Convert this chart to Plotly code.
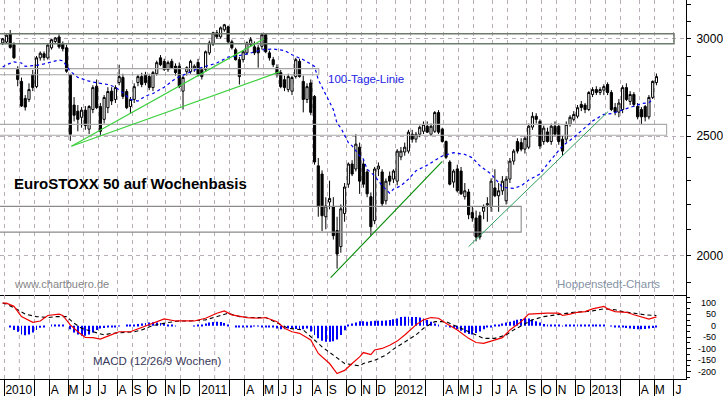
import plotly.graph_objects as go
import pandas as pd

# ---------------- data (weekly bars, Friday dates) ----------------
START = pd.Timestamp("2010-01-01")

open_ = [2977, 2982, 3028, 2967, 2832, 2770, 2683, 2678, 2805, 2743,
         2895, 2917, 2895, 2950, 2985, 3010, 2970, 2950, 2805, 2650,
         2620, 2590, 2625, 2533, 2628, 2745, 2643, 2580, 2637, 2720,
         2678, 2764, 2790, 2718, 2643, 2678, 2764, 2795, 2805, 2795,
         2738, 2810, 2895, 2876, 2832, 2876, 2850, 2850, 2720, 2821,
         2821, 2840, 2870, 2832, 2832, 2922, 2970, 3034, 3011, 3051,
         3068, 2983, 2939, 2885, 2885, 2922, 2967, 2955, 2950, 2958,
         3023, 2922, 2885, 2842, 2816, 2779, 2728, 2720, 2795, 2876,
         2770, 2678, 2762, 2693, 2365, 2329, 2150, 2210, 2190, 2095,
         2033, 2163, 2285, 2373, 2351, 2449, 2373, 2338, 2232, 2134,
         2351, 2338, 2215, 2320, 2307, 2298, 2405, 2427, 2431, 2509,
         2486, 2509, 2523, 2547, 2509, 2523, 2613, 2533, 2475, 2382,
         2294, 2351, 2342, 2232, 2252, 2167, 2145, 2154, 2172, 2198,
         2190, 2269, 2236, 2257, 2215, 2307, 2386, 2475, 2470, 2440,
         2449, 2543, 2595, 2570, 2475, 2520, 2475, 2547, 2547, 2486,
         2486, 2556, 2580, 2595, 2653, 2650, 2628, 2703, 2728, 2713,
         2725, 2754, 2713, 2638, 2615, 2628, 2738, 2668, 2703, 2643,
         2628, 2643, 2592, 2688, 2764]
high = [3005, 3025, 3050, 2980, 2850, 2790, 2700, 2760, 2830, 2905,
        2930, 2930, 2970, 2998, 3010, 3025, 2985, 2967, 2810, 2690,
        2650, 2640, 2645, 2650, 2750, 2780, 2660, 2700, 2740, 2740,
        2750, 2858, 2810, 2730, 2690, 2760, 2805, 2815, 2820, 2810,
        2825, 2880, 2910, 2890, 2880, 2890, 2865, 2870, 2800, 2850,
        2885, 2860, 2890, 2845, 2935, 2990, 3040, 3050, 3070, 3085,
        3075, 2995, 2950, 2900, 2935, 2985, 3010, 2985, 2965, 3034,
        3030, 2935, 2900, 2860, 2830, 2800, 2810, 2800, 2895, 2890,
        2800, 2760, 2780, 2700, 2400, 2345, 2230, 2300, 2230, 2150,
        2200, 2290, 2380, 2390, 2509, 2470, 2390, 2350, 2250, 2360,
        2380, 2350, 2310, 2340, 2350, 2440, 2450, 2470, 2530, 2530,
        2520, 2550, 2570, 2570, 2560, 2620, 2625, 2540, 2480, 2390,
        2350, 2370, 2360, 2290, 2265, 2190, 2175, 2170, 2200, 2230,
        2310, 2350, 2290, 2320, 2320, 2400, 2440, 2490, 2490, 2500,
        2560, 2615, 2610, 2580, 2550, 2540, 2560, 2570, 2560, 2500,
        2570, 2600, 2620, 2650, 2670, 2660, 2720, 2740, 2745, 2740,
        2755, 2765, 2725, 2660, 2680, 2750, 2760, 2720, 2715, 2660,
        2640, 2650, 2700, 2775, 2811]
low = [2965, 2975, 2945, 2890, 2745, 2640, 2623, 2665, 2720, 2735,
       2880, 2880, 2885, 2940, 2975, 2945, 2930, 2815, 2478, 2570,
       2523, 2540, 2530, 2510, 2610, 2630, 2500, 2560, 2610, 2650,
       2660, 2750, 2680, 2630, 2610, 2660, 2745, 2740, 2750, 2725,
       2720, 2800, 2850, 2825, 2820, 2835, 2800, 2735, 2628, 2800,
       2810, 2820, 2795, 2780, 2820, 2910, 2960, 3000, 3000, 3040,
       2975, 2940, 2880, 2754, 2870, 2910, 2955, 2910, 2842, 2940,
       2920, 2880, 2845, 2790, 2735, 2720, 2715, 2700, 2785, 2790,
       2614, 2660, 2600, 2370, 2150, 2093, 2100, 2180, 2060, 1951,
       2010, 2130, 2270, 2320, 2340, 2244, 2270, 2230, 2075, 2120,
       2320, 2190, 2200, 2280, 2290, 2280, 2390, 2410, 2420, 2470,
       2470, 2495, 2510, 2515, 2500, 2515, 2510, 2470, 2395, 2280,
       2270, 2250, 2240, 2220, 2140, 2130, 2053, 2060, 2140, 2130,
       2170, 2230, 2170, 2240, 2200, 2290, 2370, 2420, 2430, 2420,
       2440, 2530, 2560, 2440, 2460, 2470, 2460, 2500, 2460, 2410,
       2470, 2545, 2570, 2585, 2620, 2610, 2620, 2690, 2700, 2700,
       2700, 2700, 2620, 2600, 2590, 2610, 2670, 2650, 2640, 2580,
       2556, 2570, 2580, 2680, 2750]
close = [3000, 3020, 2952, 2895, 2780, 2645, 2640, 2728, 2738, 2895,
         2920, 2897, 2965, 2995, 3005, 2955, 2945, 2823, 2509, 2600,
         2580, 2625, 2550, 2643, 2738, 2637, 2523, 2688, 2718, 2670,
         2738, 2795, 2693, 2637, 2678, 2743, 2795, 2754, 2764, 2738,
         2816, 2869, 2858, 2832, 2869, 2842, 2816, 2743, 2790, 2842,
         2876, 2850, 2805, 2795, 2928, 2977, 3034, 3011, 3062, 3080,
         2983, 2950, 2885, 2795, 2928, 2977, 2995, 2922, 2922, 3023,
         2928, 2895, 2858, 2805, 2743, 2738, 2795, 2790, 2885, 2795,
         2678, 2743, 2614, 2382, 2194, 2154, 2194, 2225, 2075, 2005,
         2182, 2273, 2373, 2329, 2463, 2298, 2285, 2244, 2110, 2351,
         2364, 2203, 2298, 2298, 2342, 2431, 2431, 2449, 2519, 2486,
         2509, 2542, 2556, 2519, 2547, 2613, 2519, 2475, 2403, 2285,
         2342, 2257, 2244, 2257, 2158, 2145, 2070, 2070, 2190, 2203,
         2298, 2236, 2257, 2298, 2307, 2386, 2431, 2431, 2440, 2490,
         2547, 2595, 2580, 2454, 2538, 2475, 2547, 2509, 2475, 2431,
         2556, 2590, 2604, 2637, 2638, 2628, 2713, 2728, 2713, 2728,
         2743, 2713, 2628, 2615, 2660, 2738, 2678, 2703, 2653, 2592,
         2592, 2592, 2688, 2770, 2795]

# "100-Tage-Linie": week number, value
ma_week = [0, 1, 3, 5, 6, 9, 11, 13, 15, 16, 18, 20, 23, 25, 28, 30, 32, 34, 36, 38,
           40, 43, 46, 49, 52, 57, 60, 62, 66, 69, 72, 75, 77, 80, 83, 84, 86, 88, 89, 90,
           92, 93, 95, 96, 97, 99, 101, 103, 104, 106, 108, 110, 113, 117, 120, 123, 125, 127, 130, 133,
           136, 138, 140, 143, 145, 147, 149, 152, 155, 157, 160, 162, 164, 167, 170, 172, 173]
ma_val = [2846, 2858, 2873, 2867, 2849, 2854, 2862, 2873, 2883, 2879, 2823, 2791, 2771, 2763, 2754, 2740, 2712, 2678, 2670, 2695,
          2708, 2740, 2785, 2811, 2837, 2867, 2899, 2903, 2921, 2939, 2943, 2935, 2912, 2885, 2849, 2779, 2703, 2628, 2560, 2540,
          2470, 2455, 2410, 2395, 2350, 2321, 2278, 2247, 2264, 2278, 2307, 2343, 2368, 2409, 2424, 2416, 2401, 2365, 2329, 2272,
          2267, 2278, 2303, 2329, 2373, 2416, 2455, 2494, 2540, 2572, 2604, 2608, 2620, 2640, 2657, 2662, 2678]

# MACD (12/26/9) line, signal line: week number, value
macd_week = [0, 1, 3, 5, 8, 10, 12, 15, 16, 18, 20, 22, 24, 26, 28, 31, 34, 37, 40, 43,
             46, 49, 51, 54, 57, 59, 61, 65, 68, 70, 73, 75, 77, 79, 82, 84, 87, 89, 91, 93,
             95, 96, 98, 99, 101, 103, 105, 107, 109, 110, 112, 114, 116, 118, 121, 124, 126, 128, 130, 133,
             135, 138, 140, 143, 145, 148, 149, 151, 153, 155, 157, 160, 161, 163, 166, 168, 171, 172, 174]
macd_val = [99, 99, 85, 40, 15, 21, 45, 51, 45, 4, -26, -51, -52, -58, -45, -26, -26, -8, 11, 30,
            21, 21, 21, 33, 55, 65, 48, 36, 33, 36, 18, -11, -26, -33, -62, -121, -165, -209, -195, -165,
            -136, -117, -126, -106, -99, -85, -67, -40, -11, 4, 26, 36, 33, 11, -18, -55, -73, -77, -67, -52,
            -18, 18, 51, 55, 55, 55, 45, 51, 59, 62, 74, 85, 74, 62, 59, 48, 33, 29, 39]
sig_week = [0, 1, 4, 6, 9, 12, 14, 17, 19, 21, 24, 27, 29, 32, 35, 37, 40, 44, 47, 50,
            54, 58, 60, 63, 66, 70, 73, 76, 80, 82, 85, 88, 91, 95, 96, 99, 102, 104, 107, 110,
            112, 115, 118, 120, 123, 126, 128, 131, 134, 136, 139, 141, 144, 147, 149, 152, 155, 157, 160, 163,
            165, 168, 171, 174]
sig_val = [99, 95, 70, 51, 40, 36, 40, 40, 11, -11, -26, -40, -33, -30, -26, -18, 1, 14, 21, 21,
           26, 45, 55, 40, 36, 36, 11, -11, -18, -48, -92, -128, -165, -175, -165, -151, -128, -102, -70, -40,
           -11, 18, 18, 4, -18, -40, -55, -55, -40, -18, 7, 26, 40, 48, 51, 59, 62, 65, 74, 70,
           62, 55, 48, 45]
# MACD histogram, one value per week
hist = [0, 0, -8, -18, -26, -38, -41, -38, -29, -18, -9,
        -3, 0, 2, 2, 2, 2, 0,
        -15, -29, -38, -44, -44, -38, -29, -18,
        -12, -10, -8, -5, -3, -2, 0, 2, 4, 6, 8,
        10, 12, 14, 15, 14, 12, 10, 6, 3, 1,
        0, 0, 0, 0, 1, 2,
        5, 10, 14, 17, 18, 16, 12, 6,
        0, -3, -4, -4, -3, -3, -2, -2, -3, -4,
        -6, -8, -12, -15, -15, -12, -12, -14, -18, -15, -12,
        -25, -40, -55, -65, -70, -70, -68, -60, -40, -20,
        5, 10, 14, 20,
        20, 18, 20, 22, 22, 22, 23, 25, 28, 32, 38, 40, 40, 38, 38, 36, 32, 25, 18, 10,
        3, 0, -2, -5, -10,
        -14, -22, -30, -36, -38, -32, -25, -15, -8, -3,
        2, 6, 10, 14, 18, 22, 26, 30, 34, 32, 27, 20, 14, 8,
        4, 3, 3,
        2, 1, 2, 3, 4, 4, 4, 4, 5, 5, 5, 4, 3,
        0, -2, -5, -6, -8, -10, -12, -14, -15, -15, -14, -12, -10, -6]

# trend lines drawn on the chart (start / end)
trend_a_x = ["2010-05-09", "2011-06-02"]
trend_a_y = [2453, 2821]
trend_b_x = ["2010-05-09", "2011-05-03"]
trend_b_y = [2453, 3000]
trend_c_x = ["2011-09-04", "2012-03-30"]
trend_c_y = [1918, 2385]
trend_d_x = ["2012-05-18", "2013-02-02"]
trend_d_y = [2033, 2618]

# horizontal zones (boxes)
zone_lo = [2972, 2805, 2504, 2089]
zone_hi = [3028, 2837, 2556, 2192]
zone_end = ["2013-06-04 18:00", "2011-08-13", "2013-05-22", "2012-08-24"]
zone_color = ["#6e7c6e", "#a6a6a6", "#ababab", "#8a8a8a"]
zone_width = [1.5, 1.1, 1.1, 1.1]

# ---------------- helpers ----------------
FONT = "Liberation Sans, Arial, Helvetica, sans-serif"
GRID = "#b9adb9"
X_RANGE = [pd.Timestamp("2009-12-26 23:40"), pd.Timestamp("2013-06-27 02:00")]
ZONE_START = pd.Timestamp("2009-12-20")


def wk(k):
    return START + pd.Timedelta(days=7 * k)


dates = [wk(k) for k in range(len(close))]

# month grid: Monday of the week holding the first trading day of each month
grid, grid_nofeb, lab_pos, lab_txt = [], [], [], []
letters = "JFMAMJJASOND"
for y in range(2010, 2014):
    for m in range(1, 13):
        if y == 2013 and m > 6:
            break
        d = pd.Timestamp(y, m, 1)
        while d.weekday() >= 5 or (m == 1 and d.day == 1):
            d += pd.Timedelta(days=1)
        g = d - pd.Timedelta(days=d.weekday())
        grid.append(g)
        if m != 2:
            grid_nofeb.append(g)
        if m == 1:
            lab_pos.append(g + pd.Timedelta(days=27))
            lab_txt.append(str(y))
        elif m != 2 and m != 3:
            lab_pos.append(g + pd.Timedelta(days=10))
            lab_txt.append(letters[m - 1])

fig = go.Figure()

# zones
for lo, hi, end, col, w in zip(zone_lo, zone_hi, zone_end, zone_color, zone_width):
    e = pd.Timestamp(end)
    fig.add_trace(go.Scatter(x=[ZONE_START, e, e, ZONE_START, ZONE_START], y=[lo, lo, hi, hi, lo],
                             mode="lines", line=dict(color=col, width=w), hoverinfo="skip",
                             xaxis="x", yaxis="y"))

# candles
fig.add_trace(go.Candlestick(x=dates, open=open_, high=high, low=low, close=close,
                             increasing=dict(line=dict(color="black", width=1), fillcolor="white"),
                             decreasing=dict(line=dict(color="black", width=1), fillcolor="black"),
                             whiskerwidth=0, xaxis="x", yaxis="y"))

# moving average
fig.add_trace(go.Scatter(x=[wk(k) for k in ma_week], y=ma_val, mode="lines",
                         line=dict(color="#0000ee", width=1.2, dash="3px,3px"), xaxis="x", yaxis="y"))

# trend lines
for tx, ty, col, w in [(trend_a_x, trend_a_y, "#3ccf3c", 1.2), (trend_b_x, trend_b_y, "#3ccf3c", 1.2),
                       (trend_c_x, trend_c_y, "#008a00", 1.1), (trend_d_x, trend_d_y, "#2f9d5c", 1.0)]:
    fig.add_trace(go.Scatter(x=tx, y=ty, mode="lines", line=dict(color=col, width=w),
                             xaxis="x", yaxis="y"))

# MACD panel
fig.add_trace(go.Bar(x=dates, y=hist, marker=dict(color="#0000ff", line=dict(width=0)),
                     width=1.7 * 86400000, xaxis="x2", yaxis="y2"))
fig.add_trace(go.Scatter(x=[wk(k) for k in sig_week], y=sig_val, mode="lines",
                         line=dict(color="black", width=1.1, dash="4px,3px"), xaxis="x2", yaxis="y2"))
fig.add_trace(go.Scatter(x=[wk(k) for k in macd_week], y=macd_val, mode="lines",
                         line=dict(color="#ee0000", width=1.2), xaxis="x2", yaxis="y2"))

MAIN_BOTTOM = 84 / 381

axis_common = dict(type="date", range=X_RANGE, showgrid=False, zeroline=False,
                   showline=True, linecolor="black", linewidth=1, fixedrange=True)

fig.update_layout(
    width=723, height=397,
    margin=dict(l=0, r=35, t=0, b=16),
    paper_bgcolor="white", plot_bgcolor="white",
    showlegend=False, boxgap=0.18,
    font=dict(family=FONT, color="black", size=12),
    xaxis=dict(**axis_common, anchor="y", showticklabels=False, ticks="",
               rangeslider=dict(visible=False),
               minor=dict(tickmode="array", tickvals=grid, ticks="", showgrid=True,
                          gridcolor=GRID, griddash="4px,4px", gridwidth=1)),
    xaxis2=dict(**axis_common, anchor="y2", tickmode="array", tickvals=lab_pos, ticktext=lab_txt,
                ticks="", tickangle=0, tickfont=dict(size=12, family=FONT, color="black"),
                minor=dict(tickmode="array", tickvals=grid_nofeb, ticks="outside", ticklen=16,
                           tickcolor="black", tickwidth=1, showgrid=True,
                           gridcolor=GRID, griddash="4px,4px", gridwidth=1)),
    yaxis=dict(domain=[MAIN_BOTTOM, 1], type="log", range=[3.26843, 3.50867], side="right",
               anchor="x", tickmode="array", tickvals=[2000, 2500, 3000], ticktext=["2000", "2500", "3000"],
               ticks="outside", ticklen=4, tickcolor="black", showline=True, linecolor="black",
               showgrid=True, gridcolor=GRID, griddash="4px,4px", zeroline=False, fixedrange=True,
               tickfont=dict(size=12, family=FONT, color="black"), ticklabelstandoff=3,
               minor=dict(tickmode="array", ticks="outside", ticklen=4, tickcolor="black", showgrid=False,
                          tickvals=[1900, 2100, 2200, 2300, 2400, 2600, 2700, 2800, 2900, 3100, 3200])),
    yaxis2=dict(domain=[0, MAIN_BOTTOM], range=[-232.6, 132.6], side="right", anchor="x2",
                tickmode="array", tickvals=[100, 50, 0, -50, -100, -150, -200], showticklabels=False,
                ticks="outside", ticklen=4, tickcolor="black", showline=True, linecolor="black",
                showgrid=False, zeroline=False, fixedrange=True,
                minor=dict(tickmode="array", ticks="outside", ticklen=3, tickcolor="black",
                           tickvals=[125, 75, 25, -25, -75, -125, -175, -225], showgrid=False)),
)

# February grid lines in MACD panel (no tick mark under the year label)
for g in grid:
    if g.month in (1, 2) and g not in grid_nofeb:
        fig.add_shape(type="line", xref="x2", yref="y2 domain", x0=g, x1=g, y0=0, y1=1,
                      line=dict(color=GRID, width=1, dash="4px,4px"), layer="below")

ann = []
W = 688.0
H = 381.0
ann.append(dict(text="<b>EuroSTOXX 50 auf Wochenbasis</b>", x=12.5 / W, y=1 - 184 / H, xref="paper",
                yref="paper", xanchor="left", yanchor="middle", showarrow=False,
                font=dict(size=15, family=FONT, color="black")))
ann.append(dict(text="100-Tage-Linie", x=327 / W, y=1 - 79 / H, xref="paper", yref="paper",
                xanchor="left", yanchor="middle", showarrow=False,
                font=dict(size=11.5, family=FONT, color="#2323e6")))
ann.append(dict(text="www.chartbuero.de", x=12 / W, y=1 - 285 / H, xref="paper", yref="paper",
                xanchor="left", yanchor="middle", showarrow=False,
                font=dict(size=11, family=FONT, color="#858585")))
ann.append(dict(text="Hoppenstedt-Charts", x=557 / W, y=1 - 285 / H, xref="paper", yref="paper",
                xanchor="left", yanchor="middle", showarrow=False,
                font=dict(size=11.5, family=FONT, color="#8693a5")))
ann.append(dict(text="MACD (12/26/9 Wochen)", x=91.5 / W, y=1 - 363 / H, xref="paper", yref="paper",
                xanchor="left", yanchor="middle", showarrow=False,
                font=dict(size=11.5, family=FONT, color="#3a3a5c")))
for v in [100, 50, 0, -50, -100, -150, -200]:
    ann.append(dict(text=str(v), x=720 / W, y=v, xref="paper", yref="y2", xanchor="right",
                    yanchor="middle", showarrow=False, font=dict(size=9, family=FONT, color="black")))
fig.update_layout(annotations=ann)

fig.write_html("out.html")
